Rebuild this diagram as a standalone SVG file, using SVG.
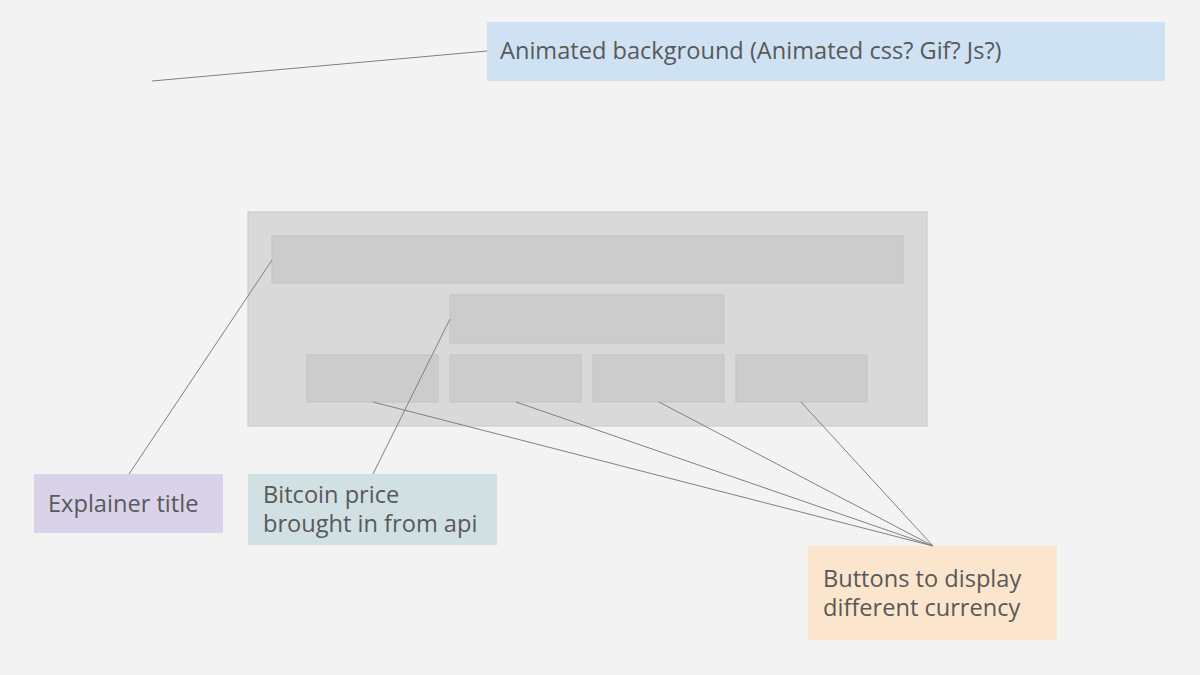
<svg xmlns="http://www.w3.org/2000/svg" width="1200" height="675" viewBox="0 0 1200 675">
<style>
.lbl{font-family:"Open Sans","Noto Sans","Liberation Sans",sans-serif;font-size:23.6px;fill:#595959}
.inner{fill:#cccccc;stroke:#c2c2c2;stroke-width:1}
.conn{stroke:#808080;stroke-width:1;fill:none}
</style>
<rect x="0" y="0" width="1200" height="675" fill="#f3f3f3"/>
<g id="animated-bg">
<rect x="487" y="22" width="678" height="59" fill="#cfe2f3"/>
<text class="lbl" x="500" y="59">Animated background (Animated css? Gif? Js?)</text>
</g>
<g id="page">
<rect x="248" y="212" width="679" height="214" fill="#d9d9d9" stroke="#c8c8c8" stroke-width="1"/>
</g>
<g id="title-bar"><rect class="inner" x="272" y="236" width="631" height="47"/></g>
<g id="price-box"><rect class="inner" x="450" y="295" width="274" height="48"/></g>
<g id="btn1"><rect class="inner" x="307" y="355" width="131" height="47"/></g>
<g id="btn2"><rect class="inner" x="450" y="355" width="131" height="47"/></g>
<g id="btn3"><rect class="inner" x="593" y="355" width="131" height="47"/></g>
<g id="btn4"><rect class="inner" x="736" y="355" width="131" height="47"/></g>
<g id="explainer">
<rect x="34" y="474" width="189" height="59" fill="#d9d2e9"/>
<text class="lbl" x="48" y="512">Explainer title</text>
</g>
<g id="bitcoin">
<rect x="248" y="474" width="249" height="71" fill="#d0e0e3"/>
<text class="lbl" x="263" y="503">Bitcoin price</text>
<text class="lbl" x="263" y="532">brought in from api</text>
</g>
<g id="buttons-note">
<rect x="808" y="546" width="249" height="94" fill="#fce5cd"/>
<text class="lbl" x="823" y="587">Buttons to display</text>
<text class="lbl" x="823" y="616">different currency</text>
</g>
<g id="connectors">
<line class="conn" x1="152" y1="81" x2="487" y2="51"/>
<line class="conn" x1="129" y1="474" x2="272" y2="260"/>
<line class="conn" x1="373" y1="474" x2="450" y2="319"/>
<line class="conn" x1="373" y1="402" x2="933" y2="546"/>
<line class="conn" x1="516" y1="402" x2="933" y2="546"/>
<line class="conn" x1="659" y1="402" x2="933" y2="546"/>
<line class="conn" x1="801" y1="402" x2="933" y2="546"/>
</g>
</svg>
